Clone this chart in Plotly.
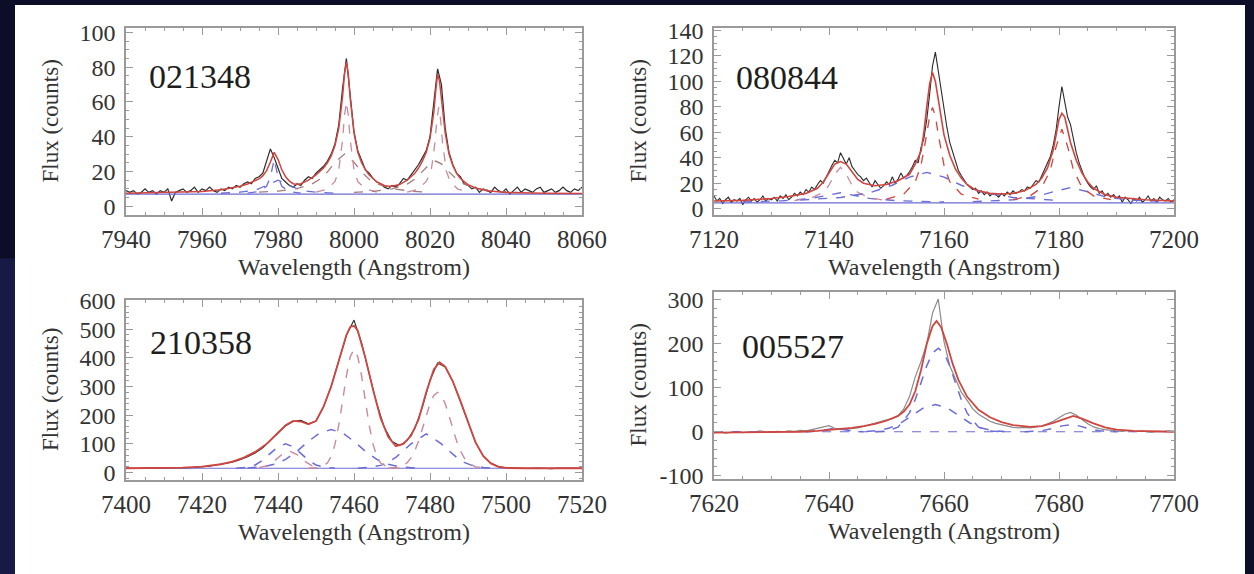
import numpy as np
import plotly.graph_objects as go

W, H = 1254, 574

# ---------------- Panel 1 : 021348 ----------------
p1_label = "021348"
p1_data_wl = np.arange(7940, 8061, 1)
p1_data_flux = [9, 8, 9, 7, 8, 10, 8, 9, 7, 9, 8, 10, 3, 8, 9, 10, 8, 9, 11, 8, 10, 9, 11, 9, 8, 10, 9, 11,
                10, 12, 11, 13, 14, 13, 16, 17, 19, 26, 33, 28, 22, 16, 14, 12, 11, 13, 12, 15, 17, 16, 19,
                21, 23, 26, 30, 36, 47, 68, 85, 64, 43, 32, 26, 21, 19, 16, 14, 13, 11, 10, 12,
                11, 13, 16, 15, 18, 21, 24, 28, 32, 40, 58, 79, 70, 45, 31, 24, 19, 17, 13, 12, 10, 11,
                8, 10, 9, 8, 11, 9, 8, 10, 7, 9, 11, 8, 10, 9, 8, 10, 11, 8, 9, 10, 8, 9, 11, 9, 8, 10, 9, 11]
p1_fit_wl = [7940, 7950, 7960, 7965, 7968, 7970, 7972, 7974, 7975, 7976, 7977, 7978, 7979, 7980, 7981, 7982,
             7983, 7984, 7985, 7986, 7988, 7990, 7992, 7993, 7994, 7995, 7996, 7997, 7997.5, 7998, 7998.5,
             7999, 8000, 8001, 8002, 8003, 8004, 8006, 8008, 8009, 8010, 8012, 8014, 8016, 8017, 8018,
             8019, 8020, 8021, 8021.5, 8022, 8022.5, 8023, 8024, 8025, 8026, 8027, 8028, 8030, 8032,
             8035, 8040, 8050, 8060]
p1_fit_flux = [7.5, 7.8, 8.5, 9.5, 10.5, 11.5, 12.8, 14.5, 15.8, 17.5, 20.5, 25.5, 31, 27, 21, 17,
               14.5, 13, 12.5, 13, 15, 18, 22, 25, 29, 35, 45, 63, 76, 83, 76,
               62, 42, 31, 25, 21, 18, 14, 12, 11.5, 11.5, 12.5, 15, 19, 22, 26,
               31, 39, 54, 66, 76, 72, 62, 42, 30, 23.5, 19, 16, 12.5, 10.5,
               9, 8, 7.5, 7.3]
p1_cont_wl = [7940, 8060]
p1_cont_flux = [7, 7]
p1_n1_wl = [7972, 7975, 7977, 7978, 7979, 7980, 7981, 7983, 7986]
p1_n1_flux = [7.6, 8.5, 11.5, 17, 27, 17, 11.5, 8.5, 7.6]
p1_b1_wl = [7965, 7970, 7974, 7977, 7980, 7983, 7986, 7990, 7995]
p1_b1_flux = [7.5, 8.1, 9.2, 12.1, 15, 12.1, 9.2, 8.1, 7.5]
p1_b2_wl = [7975, 7980, 7985, 7989, 7991, 7993, 7995, 7997.5, 8000, 8002, 8004, 8006, 8010, 8015, 8020]
p1_b2_flux = [8.1, 8.7, 10.2, 12.9, 15.5, 19.7, 25.4, 30, 25.4, 19.7, 15.5, 12.9, 10.2, 8.7, 8.1]
p1_n2_wl = [7990, 7993, 7995, 7996, 7997, 7997.5, 7998, 7998.5, 7999, 8000, 8001, 8003, 8006]
p1_n2_flux = [8.2, 9.9, 14.3, 21, 38.3, 52.3, 60, 52.3, 38.3, 21, 14.3, 9.9, 8.2]
p1_b3_wl = [8000, 8005, 8010, 8014, 8016, 8018, 8020, 8021.5, 8023, 8025, 8027, 8029, 8033, 8038, 8043]
p1_b3_flux = [8.0, 8.6, 10.0, 12.8, 15.6, 19.8, 24.4, 26, 24.4, 19.8, 15.6, 12.8, 10.0, 8.6, 8.0]
p1_n3_wl = [8014, 8017, 8019, 8020.3, 8021.3, 8021.8, 8022.3, 8022.8, 8023.3, 8024.3, 8025.3, 8027.3, 8030.3]
p1_n3_flux = [8.2, 9.9, 14.3, 20.2, 36.6, 49.7, 57, 49.7, 36.6, 20.2, 14.3, 9.9, 8.2]

# ---------------- Panel 2 : 080844 ----------------
p2_label = "080844"
p2_data_wl = np.arange(7120, 7200.01, 0.5)
p2_data_flux = [10, 6, 8, 4, 7, 9, 5, 7, 6, 8, 3, 7, 9, 6, 8, 5, 7, 10, 6, 8,
                7, 9, 6, 10, 8, 11, 7, 9, 12, 10, 13, 11, 15, 13, 17, 15, 19, 22, 20, 25,
                30, 34, 38, 36, 44, 39, 35, 40, 33, 30, 27, 25, 22, 24, 20, 17, 22, 19, 16, 18,
                21, 19, 25, 20, 23, 28, 24, 26, 29, 33, 38, 36, 48, 55, 70, 90, 112, 123, 108, 94,
                76, 64, 52, 44, 36, 30, 26, 22, 19, 17, 15, 16, 12, 14, 11, 13, 10, 12, 11, 9,
                12, 10, 13, 11, 14, 12, 13, 15, 14, 17, 16, 19, 22, 21, 26, 30, 35, 41, 50, 62,
                80, 96, 84, 72, 66, 55, 44, 36, 30, 24, 20, 17, 15, 18, 12, 14, 10, 12, 9, 11,
                8, 10, 5, 9, 7, 4, 8, 6, 9, 5, 7, 10, 6, 8, 5, 9, 7, 6, 8, 5,
                7]
p2_fit_wl = [7120, 7125, 7130, 7133, 7136, 7138, 7139, 7140, 7141, 7142, 7143, 7144, 7145, 7146, 7148,
             7150, 7152, 7154, 7155, 7156, 7156.5, 7157, 7157.5, 7158, 7158.5, 7159, 7159.5, 7160, 7161,
             7162, 7163, 7164, 7165, 7166, 7168, 7170, 7172, 7174, 7176, 7177, 7178, 7179, 7179.5, 7180,
             7180.5, 7181, 7181.5, 7182, 7183, 7184, 7185, 7186, 7188, 7190, 7195, 7200]
p2_fit_flux = [6, 6.5, 8, 9.5, 12, 16, 21, 28, 35, 37, 35, 29, 23, 20, 18,
               19, 22, 27, 35, 45, 60, 80, 98, 107, 100, 86, 70, 58, 42,
               31, 24, 19, 16, 14, 12, 11.5, 12, 14, 19, 24, 32, 46, 58, 70,
               75, 72, 62, 52, 38, 28, 21, 16, 11, 9, 7, 6]
p2_cont_wl = [7120, 7200]
p2_cont_flux = [4.5, 4.5]
p2_b1_wl = [7125, 7132, 7137, 7142, 7147, 7152, 7160]
p2_b1_flux = [5.2, 6.2, 8.1, 12.5, 8.1, 6.2, 5.2]
p2_n1_wl = [7134, 7137, 7139, 7140, 7141, 7142, 7143, 7144, 7145, 7147, 7150]
p2_n1_flux = [6.3, 8.5, 12.9, 18.5, 27, 32.5, 27, 18.5, 12.9, 8.5, 6.3]
p2_b2_wl = [7135, 7142, 7147, 7151, 7154, 7157, 7160, 7163, 7167, 7172, 7179]
p2_b2_flux = [6.7, 8.8, 12.4, 18.4, 24.8, 28.5, 24.8, 18.4, 12.4, 8.8, 6.7]
p2_n2_wl = [7150, 7153, 7155, 7156, 7157, 7157.5, 7158, 7158.5, 7159, 7160, 7161, 7163, 7166]
p2_n2_flux = [7.4, 11.4, 21.2, 34, 58.5, 72.7, 79.5, 72.7, 58.5, 34, 21.2, 11.4, 7.4]
p2_b3_wl = [7165, 7172, 7176, 7179, 7182, 7185, 7188, 7192, 7199]
p2_b3_flux = [5.5, 6.9, 9.4, 13.3, 16.5, 13.3, 9.4, 6.9, 5.5]
p2_n3_wl = [7172, 7175, 7177, 7178.5, 7179.5, 7180.5, 7181.5, 7182.5, 7184, 7186, 7189]
p2_n3_flux = [7, 10.1, 16.6, 30.5, 48.8, 62.5, 48.8, 30.5, 16.6, 10.1, 7]

# ---------------- Panel 3 : 210358 ----------------
p3_label = "210358"
p3_data_wl = np.arange(7400, 7521, 2)
p3_data_flux = [16, 14, 15, 17, 14, 16, 15, 17, 16, 18,
                20, 22, 27, 31, 36, 45, 55, 68, 86, 112,
                140, 163, 178, 182, 170, 180, 230, 302, 392, 478,
                532, 452, 345, 240, 157, 108, 94, 112, 154, 228,
                322, 382, 368, 318, 248, 176, 104, 58, 33, 21,
                17, 16, 15, 14, 16, 15, 13, 16, 15, 14,
                15]
p3_fit_wl = [7400, 7410, 7415, 7420, 7425, 7428, 7431, 7434, 7437, 7440, 7442, 7444, 7446, 7448, 7450,
             7452, 7454, 7456, 7458, 7459, 7460, 7461, 7463, 7465, 7467, 7469, 7471, 7473, 7475, 7477,
             7479, 7481, 7482.5, 7484, 7486, 7488, 7490, 7492, 7494, 7496, 7498, 7500, 7505, 7510, 7520]
p3_fit_flux = [15, 15, 17, 21, 29, 38, 52, 72, 100, 138, 165, 180, 178, 168, 180,
               230, 300, 390, 480, 508, 512, 495, 400, 290, 190, 125, 92, 100, 128, 185,
               280, 360, 385, 370, 318, 250, 175, 105, 58, 32, 20, 16, 15, 15, 15]
p3_cont_wl = [7400, 7520]
p3_cont_flux = [15, 15]
p3_na_wl = [7448, 7451, 7453, 7454, 7455, 7456, 7457, 7458, 7459, 7460, 7461, 7462, 7463, 7464, 7465,
            7466, 7467, 7469, 7472]
p3_na_flux = [15, 17.4, 33, 57, 99, 165, 250, 337, 404, 430, 404, 337, 250, 165, 99, 57, 33, 17.4, 15]
p3_nb_wl = [7469, 7472, 7474, 7475, 7476, 7477, 7478, 7479, 7480, 7481, 7482, 7483, 7484, 7485, 7486,
            7487, 7488, 7489, 7490, 7492, 7495]
p3_nb_flux = [15, 19.5, 34, 51, 76, 110, 153, 199, 240, 269, 280, 269, 240, 199, 153, 110, 76, 51, 34,
              19.5, 15]
p3_bc_wl = [7432, 7436, 7439, 7442, 7445, 7448, 7451, 7454, 7457, 7460, 7463, 7466, 7469, 7472, 7476]
p3_bc_flux = [16, 20, 28.6, 46, 74, 109, 138, 150, 138, 109, 74, 46, 28.6, 20, 16]
p3_bd_wl = [7429, 7432, 7434, 7436, 7438, 7440, 7442, 7444, 7446, 7448, 7450, 7452, 7455]
p3_bd_flux = [15, 18.7, 26.5, 43, 67, 90, 100, 90, 67, 43, 26.5, 18.7, 15]
p3_ne_wl = [7435, 7437, 7439, 7441, 7443, 7445, 7447, 7449, 7451]
p3_ne_flux = [16.7, 23, 39.6, 63, 75, 63, 39.6, 23, 16.7]
p3_bf_wl = [7461, 7464, 7467, 7469, 7471, 7473, 7475, 7477, 7479, 7481, 7483, 7485, 7487, 7489, 7491,
            7494, 7497]
p3_bf_flux = [15, 17.8, 25, 35.6, 53, 76, 100, 118, 135, 118, 100, 76, 53, 35.6, 25, 17.8, 15]

# ---------------- Panel 4 : 005527 ----------------
p4_label = "005527"
p4_data_wl = np.arange(7620, 7701, 1)
p4_data_flux = [-2, 0, -3, -1, 1, -2, 0, -1, 2, 0, -1, 1, 0, 2, 1, 3, 2, 5, 8, 12,
                14, 8, 5, 6, 7, 9, 12, 16, 20, 24,
                27, 30, 36, 52, 80, 125, 160, 200, 270, 302,
                205, 150, 118, 90, 72, 52, 40, 31, 24, 19,
                16, 12, 10, 9, 10, 9, 11, 13, 18, 24,
                32, 40, 44, 38, 28, 18, 11, 7, 5, 3,
                2, 1, 3, 0, 2, 1, -1, 1, 0, 2, 1]
p4_fit_wl = [7620, 7630, 7635, 7638, 7640, 7642, 7644, 7646, 7648, 7650, 7652, 7653, 7654, 7655, 7656,
             7657, 7658, 7658.7, 7659.5, 7660.5, 7661.5, 7662.5, 7664, 7666, 7668, 7670, 7672, 7675,
             7677, 7679, 7681, 7682.5, 7684, 7686, 7688, 7690, 7693, 7700]
p4_fit_flux = [-2, -1, 0, 2, 4, 6, 9, 13, 18, 25, 36, 46, 62, 92, 140,
               200, 240, 252, 238, 200, 155, 118, 80, 50, 33, 22, 15, 11,
               13, 20, 30, 36, 30, 19, 10, 5, 2, 0]
p4_cont_wl = [7620, 7700]
p4_cont_flux = [0, 0]
p4_bg_wl = [7648, 7650, 7652, 7654, 7655, 7656, 7657, 7658, 7659, 7660, 7661, 7662, 7663, 7664, 7666,
            7668, 7670]
p4_bg_flux = [0, 1.5, 10.3, 42.9, 73.3, 111, 150, 179, 190, 179, 150, 111, 73.3, 42.9, 10.3, 1.5, 0]
p4_bh_wl = [7646.5, 7648.5, 7650.5, 7652.5, 7654.5, 7656.5, 7658.5, 7660.5, 7662.5, 7664.5, 7666.5,
            7668.5, 7670.5]
p4_bh_flux = [0.7, 2.7, 8.4, 20, 37.6, 54.7, 62, 54.7, 37.6, 20, 8.4, 2.7, 0.7]
p4_bi_wl = [7674, 7677, 7679, 7680.5, 7682, 7683.5, 7685, 7687, 7690]
p4_bi_flux = [0.1, 2.2, 7.8, 13.4, 16, 13.4, 7.8, 2.2, 0.1]
p4_bj_wl = [7636, 7638, 7640, 7641, 7642, 7644, 7646]
p4_bj_flux = [0, 2, 6, 8, 6, 2, 0]

# ---------------- axes settings ----------------
p1_xrange, p1_yrange = [7940, 8060], [-5, 102.5]
p2_xrange, p2_yrange = [7120, 7200], [-5, 142]
p3_xrange, p3_yrange = [7400, 7520], [-26, 602]
p4_xrange, p4_yrange = [7620, 7700], [-107.5, 318]
p1_yticks = [0, 20, 40, 60, 80, 100]
p2_yticks = [0, 20, 40, 60, 80, 100, 120, 140]
p3_yticks = [0, 100, 200, 300, 400, 500, 600]
p4_yticks = [-100, 0, 100, 200, 300]

# pixel boxes (left, right, top, bottom) as seen in the reference
boxes = [(126, 582, 28, 215), (714, 1174, 28, 215), (126, 582, 300, 480), (714, 1174, 292, 479)]

RED = "#d0453f"
BLUE = "#6c6cd6"
PINK = "#c98a9e"
BROWN = "#a87c78"
DATA = "#2a2a2a"
FONT = "Liberation Serif, Times New Roman, DejaVu Serif, serif"
BG = "#0b0e26"

fig = go.Figure()


def add(i, wl, fl, color, width, dash=None):
    ax = "" if i == 1 else str(i)
    fig.add_trace(go.Scatter(x=list(wl), y=list(fl), mode="lines",
                             line=dict(color=color, width=width, dash=dash),
                             xaxis="x" + ax, yaxis="y" + ax, showlegend=False, hoverinfo="skip"))


# panel 1
add(1, p1_data_wl, p1_data_flux, DATA, 1.2)
add(1, p1_cont_wl, p1_cont_flux, BLUE, 1.2)
add(1, p1_b1_wl, p1_b1_flux, BLUE, 1.3, "dash")
add(1, p1_n1_wl, p1_n1_flux, BLUE, 1.3, "dash")
add(1, p1_b2_wl, p1_b2_flux, BROWN, 1.3, "dash")
add(1, p1_n2_wl, p1_n2_flux, PINK, 1.3, "dash")
add(1, p1_b3_wl, p1_b3_flux, BROWN, 1.3, "dash")
add(1, p1_n3_wl, p1_n3_flux, PINK, 1.3, "dash")
add(1, p1_fit_wl, p1_fit_flux, RED, 1.5)

# panel 2
add(2, p2_data_wl, p2_data_flux, DATA, 1.1)
add(2, p2_cont_wl, p2_cont_flux, BLUE, 1.2)
add(2, p2_b1_wl, p2_b1_flux, BLUE, 1.4, "dash")
add(2, p2_n1_wl, p2_n1_flux, PINK, 1.3, "dash")
add(2, p2_b2_wl, p2_b2_flux, BLUE, 1.4, "dash")
add(2, p2_n2_wl, p2_n2_flux, RED, 1.3, "dash")
add(2, p2_b3_wl, p2_b3_flux, BLUE, 1.4, "dash")
add(2, p2_n3_wl, p2_n3_flux, RED, 1.3, "dash")
add(2, p2_fit_wl, p2_fit_flux, RED, 1.6)

# panel 3
add(3, p3_data_wl, p3_data_flux, DATA, 1.1)
add(3, p3_cont_wl, p3_cont_flux, BLUE, 1.2)
add(3, p3_bc_wl, p3_bc_flux, BLUE, 1.5, "dash")
add(3, p3_bd_wl, p3_bd_flux, BLUE, 1.5, "dash")
add(3, p3_ne_wl, p3_ne_flux, PINK, 1.4, "dash")
add(3, p3_bf_wl, p3_bf_flux, BLUE, 1.5, "dash")
add(3, p3_na_wl, p3_na_flux, PINK, 1.4, "dash")
add(3, p3_nb_wl, p3_nb_flux, PINK, 1.4, "dash")
add(3, p3_fit_wl, p3_fit_flux, RED, 1.8)

# panel 4
add(4, p4_data_wl, p4_data_flux, "#8a8a8a", 1.2)
add(4, p4_cont_wl, p4_cont_flux, BLUE, 1.2, "dash")
add(4, p4_bj_wl, p4_bj_flux, BLUE, 1.5, "dash")
add(4, p4_bg_wl, p4_bg_flux, BLUE, 1.5, "dash")
add(4, p4_bh_wl, p4_bh_flux, BLUE, 1.5, "dash")
add(4, p4_bi_wl, p4_bi_flux, BLUE, 1.5, "dash")
add(4, p4_fit_wl, p4_fit_flux, RED, 1.8)

AXCOL = "#9a9a9a"
XTICKFONT = dict(family=FONT, size=25, color="#333333")
YTICKFONT = dict(family=FONT, size=24, color="#333333")

xranges = [p1_xrange, p2_xrange, p3_xrange, p4_xrange]
yranges = [p1_yrange, p2_yrange, p3_yrange, p4_yrange]
yticks = [p1_yticks, p2_yticks, p3_yticks, p4_yticks]
yminor = [5, 5, 20, 20]
labels = [p1_label, p2_label, p3_label, p4_label]


def px(x):
    return x / W


def py(y):
    return 1 - y / H


layout = dict(width=W, height=H, margin=dict(l=0, r=0, t=0, b=0, pad=0, autoexpand=False),
              paper_bgcolor=BG, plot_bgcolor="white", showlegend=False)
annotations = []
shapes = [
    dict(type="rect", xref="paper", yref="paper", x0=0, x1=px(15), y0=0, y1=0.55,
         fillcolor="#161a44", line=dict(width=0), layer="below"),
    dict(type="rect", xref="paper", yref="paper", x0=px(15), x1=px(1245), y0=0, y1=py(5),
         fillcolor="white", line=dict(width=0), layer="below"),
]

for i in range(4):
    l, r, t, b = boxes[i]
    ax = "" if i == 0 else str(i + 1)
    x0, x1 = xranges[i]
    layout["xaxis" + ax] = dict(
        domain=[px(l), px(r)], range=xranges[i], anchor="y" + ax, showgrid=False, zeroline=False,
        automargin=False, showline=True, linecolor=AXCOL, linewidth=1.5, mirror="ticks",
        ticks="inside", ticklen=7, tickwidth=1.2, tickcolor=AXCOL,
        tickvals=list(range(x0, x1 + 1, 20)), ticktext=[str(v) for v in range(x0, x1 + 1, 20)],
        minor=dict(dtick=5, tick0=x0, ticks="inside", ticklen=3.5, tickcolor=AXCOL, tickwidth=1),
        tickfont=XTICKFONT, ticklabelstandoff=1)
    layout["yaxis" + ax] = dict(
        domain=[py(b), py(t)], range=yranges[i], anchor="x" + ax, showgrid=False, zeroline=False,
        automargin=False, showline=True, linecolor=AXCOL, linewidth=1.5, mirror="ticks",
        ticks="inside", ticklen=7, tickwidth=1.2, tickcolor=AXCOL,
        tickvals=yticks[i], ticktext=[str(v) for v in yticks[i]],
        minor=dict(dtick=yminor[i], tick0=0, ticks="inside", ticklen=3.5, tickcolor=AXCOL, tickwidth=1),
        tickfont=YTICKFONT, ticklabelstandoff=4)
    cx = (l + r) / 2
    annotations.append(dict(text="Wavelength (Angstrom)", xref="paper", yref="paper",
                            x=px(cx), y=py(b + 52), xanchor="center", yanchor="middle",
                            showarrow=False, font=dict(family=FONT, size=24, color="#333333")))
    annotations.append(dict(text="Flux (counts)", xref="paper", yref="paper",
                            x=px(l - 76), y=py((t + b) / 2), xanchor="center", yanchor="middle",
                            textangle=-90, showarrow=False,
                            font=dict(family=FONT, size=23, color="#333333")))

label_pos = [(200, 76), (787, 77), (201, 342), (793, 346)]
for i in range(4):
    annotations.append(dict(text=labels[i], xref="paper", yref="paper",
                            x=px(label_pos[i][0]), y=py(label_pos[i][1]),
                            xanchor="center", yanchor="middle", showarrow=False,
                            font=dict(family=FONT, size=34, color="#1e1e1e")))

layout["annotations"] = annotations
layout["shapes"] = shapes
fig.update_layout(**layout)
fig.write_html("out.html", config={"displayModeBar": False},
               post_script="document.body.style.margin='0';document.body.style.background='" + BG + "';"
                           "document.documentElement.style.overflow='hidden';")
